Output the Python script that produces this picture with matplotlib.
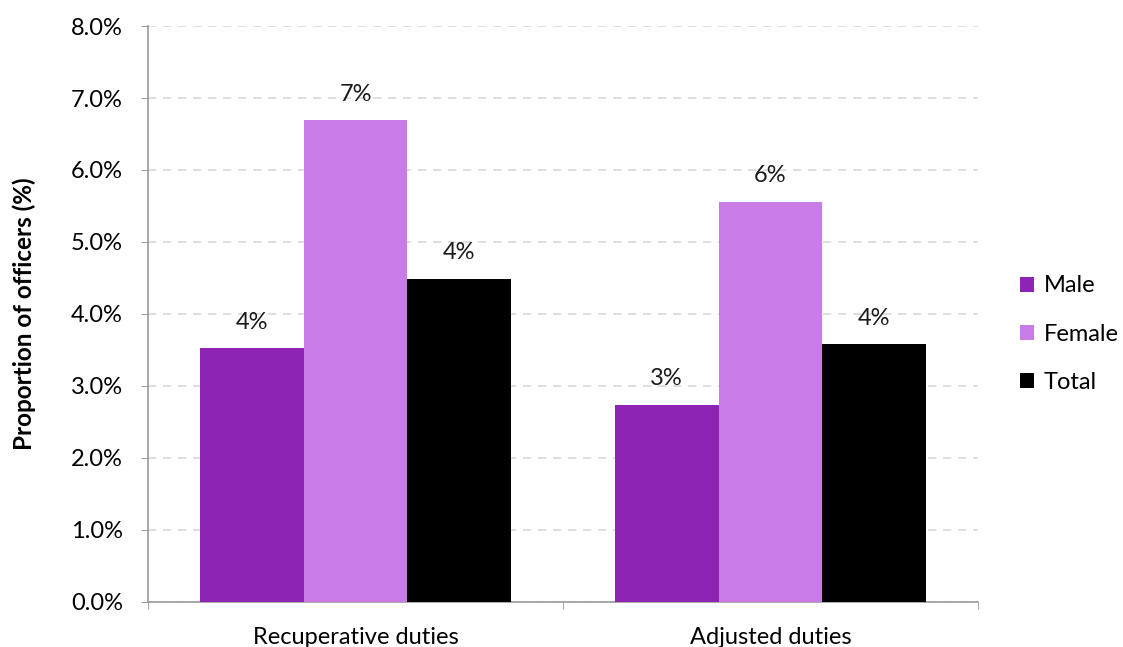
import matplotlib.pyplot as plt
import numpy as np
from matplotlib.ticker import FuncFormatter

categories = ["Recuperative duties", "Adjusted duties"]
series_names = ["Male", "Female", "Total"]
male = [3.53, 2.74]
female = [6.69, 5.56]
total = [4.49, 3.58]
value_labels = [["4%", "3%"], ["7%", "6%"], ["4%", "4%"]]
colors = ["#8E24B3", "#C97CE6", "#000000"]

plt.rcParams["font.family"] = ["Lato", "DejaVu Sans"]

fig = plt.figure(figsize=(11.23, 6.47), dpi=100)
ax = fig.add_axes([0.1318, 0.0696, 0.7391, 0.8902])

x = np.arange(len(categories))
width = 0.25
for i, (name, vals) in enumerate(zip(series_names, [male, female, total])):
    pos = x + (i - 1) * width
    ax.bar(pos, vals, width, color=colors[i], label=name, zorder=3)
    for p, v, lab in zip(pos, vals, value_labels[i]):
        ax.annotate(lab, (p, v), xytext=(0, 11), textcoords="offset points",
                    ha="center", va="bottom", fontsize=17, color="#1a1a1a")

ax.set_xlim(-0.5, 1.5)
ax.set_ylim(0, 8)
ax.set_yticks(np.arange(0, 8.01, 1))
ax.yaxis.set_major_formatter(FuncFormatter(lambda v, _: f"{v:.1f}%"))
ax.set_xticks(x)
ax.set_xticklabels(categories)
ax.set_xticks([-0.5, 0.5, 1.5], minor=True)
ax.tick_params(axis="x", which="major", length=0, pad=18, labelsize=17)
ax.tick_params(axis="x", which="minor", length=5, color="#9a9a9a", direction="out")
ax.tick_params(axis="y", length=5, color="#9a9a9a", labelsize=17, pad=13)

ax.grid(axis="y", color="#d9d9d9", linestyle=(0, (5, 4)), linewidth=1.2, zorder=0)
for side in ["top", "right"]:
    ax.spines[side].set_visible(False)
for side in ["left", "bottom"]:
    ax.spines[side].set_color("#9a9a9a")
    ax.spines[side].set_linewidth(1.2)

ax.set_ylabel("Proportion of officers (%)", fontsize=17.5, fontweight="bold", labelpad=25)

ax.legend(loc="center left", bbox_to_anchor=(1.025, 0.465), frameon=False,
          fontsize=17, handlelength=0.6, handleheight=0.6, labelspacing=1.15,
          handletextpad=0.4)

fig.savefig("out.png", dpi=100)
